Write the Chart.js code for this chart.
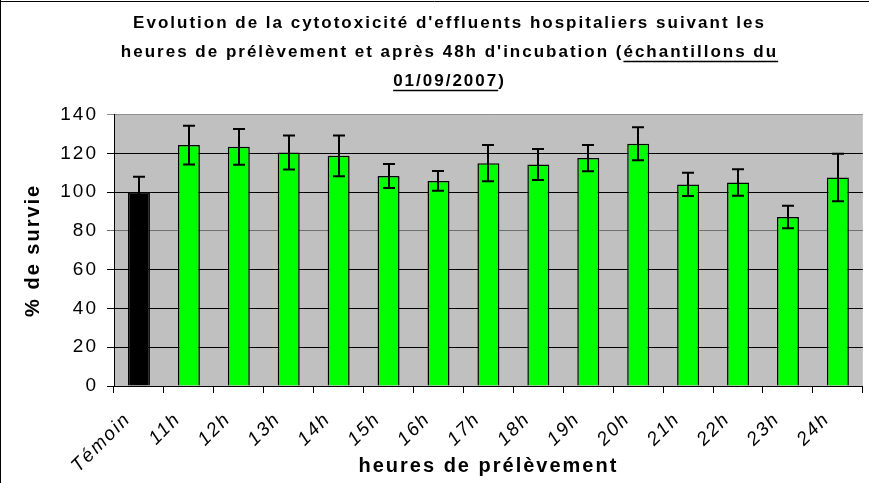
<!DOCTYPE html>
<html>
<head>
<meta charset="utf-8">
<script src="https://cdn.jsdelivr.net/npm/chart.js@4"></script>
<style>
  html, body { margin: 0; padding: 0; background: #fff; }
  #wrap { width: 869px; height: 483px; }
</style>
</head>
<body>
<div id="wrap"><canvas id="chart"></canvas></div>
<script>
const heures = ['Témoin', '11h', '12h', '13h', '14h', '15h', '16h', '17h', '18h', '19h', '20h', '21h', '22h', '23h', '24h'];
const survie = [100, 124.3, 123.4, 120.5, 118.8, 108.4, 105.8, 115, 114.3, 117.6, 125, 104, 105, 87.2, 107.6];
const ecart = [8, 10, 9.2, 8.8, 10.5, 6.2, 5.1, 9.3, 8, 6.8, 8.5, 6, 6.8, 5.8, 12.3];
const yTicks = [0, 20, 40, 60, 80, 100, 120, 140];

const titleLines = [
    "Evolution de la cytotoxicité d'effluents hospitaliers suivant les",
    "heures de prélèvement et après 48h d'incubation (échantillons du",
    "01/09/2007)"
];

const police = 'Liberation Sans, Arial, sans-serif';
const titleFont = { family: police, size: 17, weight: 'bold', lineHeight: 1.7 };
const espacement = '2px'; // the Excel text is a bit spread out

// grey background of the plot area + outer frame
const fondPlugin = {
    id: 'fond',
    beforeDraw(chart) {
        const { ctx, chartArea: a } = chart;
        ctx.letterSpacing = espacement;
        ctx.save();
        ctx.fillStyle = '#ffffff';
        ctx.fillRect(0, 0, chart.width, chart.height);
        ctx.fillStyle = '#c0c0c0';
        ctx.fillRect(a.left, a.top, a.right - a.left, a.bottom - a.top);
        ctx.restore();
    },
    afterDraw(chart) {
        const ctx = chart.ctx;
        ctx.save();
        ctx.strokeStyle = '#000';
        ctx.lineWidth = 1;
        ctx.beginPath();
        ctx.moveTo(0.5, 0);
        ctx.lineTo(0.5, chart.height);
        ctx.moveTo(0, 1.5);
        ctx.lineTo(chart.width, 1.5);
        ctx.stroke();
        ctx.restore();
    }
};

// error bars
const erreurPlugin = {
    id: 'erreurs',
    afterDatasetsDraw(chart) {
        const ctx = chart.ctx;
        const y = chart.scales.y;
        const meta = chart.getDatasetMeta(0);
        ctx.save();
        ctx.strokeStyle = '#000';
        ctx.lineWidth = 2;
        meta.data.forEach((bar, i) => {
            const x = Math.round(bar.x);
            const yHaut = y.getPixelForValue(survie[i] + ecart[i]);
            const yBas = y.getPixelForValue(survie[i] - ecart[i]);
            ctx.beginPath();
            ctx.moveTo(x, yHaut);
            ctx.lineTo(x, yBas);
            ctx.moveTo(x - 6, yHaut);
            ctx.lineTo(x + 6, yHaut);
            ctx.moveTo(x - 6, yBas);
            ctx.lineTo(x + 6, yBas);
            ctx.stroke();
        });
        ctx.restore();
    }
};

// underline "échantillons du 01/09/2007" in the title
const soulignePlugin = {
    id: 'souligne',
    afterDraw(chart) {
        const tb = chart.titleBlock;
        if (!tb) return;
        const ctx = chart.ctx;
        const lh = titleFont.size * titleFont.lineHeight;
        const cx = (tb.left + tb.right) / 2;
        const y0 = tb.top + tb.options.padding.top;
        ctx.save();
        ctx.letterSpacing = espacement;
        ctx.font = 'bold ' + titleFont.size + 'px ' + titleFont.family;
        ctx.strokeStyle = '#000';
        ctx.lineWidth = 1.5;
        const traits = [
            [1, "heures de prélèvement et après 48h d'incubation (", 'échantillons du'],
            [2, '', '01/09/2007']
        ];
        traits.forEach(([ligne, avant, texte]) => {
            const w = ctx.measureText(titleLines[ligne]).width;
            const x1 = cx - w / 2 + ctx.measureText(avant).width;
            const x2 = x1 + ctx.measureText(texte).width;
            const yl = Math.round(y0 + lh * ligne + lh / 2 + titleFont.size * 0.5) + 0.5;
            ctx.beginPath();
            ctx.moveTo(x1, yl);
            ctx.lineTo(x2, yl);
            ctx.stroke();
        });
        ctx.restore();
    }
};

const ctx = document.getElementById('chart').getContext('2d');
new Chart(ctx, {
    type: 'bar',
    data: {
        labels: heures,
        datasets: [{
            label: '% de survie',
            data: survie,
            backgroundColor: heures.map((h, i) => i === 0 ? '#000000' : '#00ff00'),
            borderColor: '#000000',
            borderWidth: 1.5,
            barPercentage: 0.44,
            categoryPercentage: 1
        }]
    },
    options: {
        responsive: true,
        maintainAspectRatio: false,
        animation: false,
        layout: { padding: { left: 30, right: 0, top: 0, bottom: 0 } },
        plugins: {
            legend: { display: false },
            tooltip: { enabled: false },
            title: {
                display: true,
                text: titleLines,
                color: '#000',
                font: titleFont,
                padding: { top: 9, bottom: 19 }
            }
        },
        scales: {
            x: {
                afterFit(scale) { scale.height = 97; },
                grid: {
                    display: true,
                    offset: true,
                    drawOnChartArea: false,
                    drawTicks: true,
                    tickLength: 7,
                    color: '#000'
                },
                border: { display: true, color: '#000', width: 1 },
                ticks: {
                    color: '#000',
                    minRotation: 45,
                    maxRotation: 45,
                    labelOffset: -11,
                    padding: 15,
                    font: { family: police, size: 19, style: 'italic' }
                },
                title: {
                    display: true,
                    text: 'heures de prélèvement',
                    color: '#000',
                    font: { family: police, size: 20, weight: 'bold', lineHeight: 1.2 },
                    padding: { top: 0, bottom: 5 }
                }
            },
            y: {
                min: 0,
                max: 140,
                afterFit(scale) { scale.width = 84; },
                afterBuildTicks(scale) { scale.ticks = yTicks.map(v => ({ value: v })); },
                grid: {
                    drawTicks: true,
                    tickLength: 7,
                    color: c => c.tick && c.tick.value === 80 ? '#707070' : (c.tick && c.tick.value === 140 ? '#909090' : '#000'),
                    lineWidth: 1
                },
                border: { display: true, color: '#000', width: 1 },
                ticks: {
                    color: '#000',
                    padding: 9,
                    font: { family: police, size: 19 }
                },
                title: {
                    display: true,
                    text: '% de survie',
                    color: '#000',
                    font: { family: police, size: 20, weight: 'bold', lineHeight: 1.2 },
                    padding: { top: -9, bottom: 0 }
                }
            }
        }
    },
    plugins: [fondPlugin, erreurPlugin, soulignePlugin]
});
</script>
</body>
</html>
